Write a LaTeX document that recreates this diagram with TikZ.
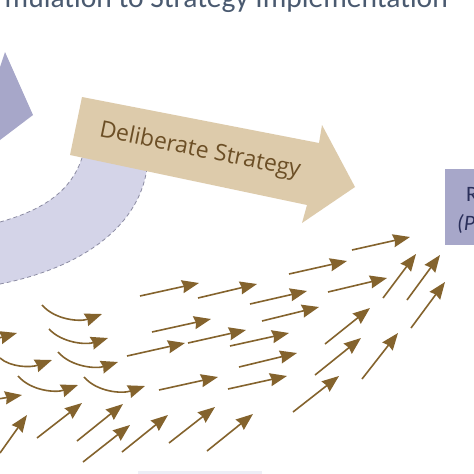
\documentclass[tikz,border=0pt]{standalone}
\usepackage{fontspec}
\setmainfont{Carlito}
\newfontfamily\delibfont{Open Sans}
\usetikzlibrary{arrows.meta}
\definecolor{titlec}{HTML}{4A5A70}
\definecolor{headc}{HTML}{A7A7C9}
\definecolor{bandc}{HTML}{D4D4E8}
\definecolor{bandline}{HTML}{8C8CA3}
\definecolor{tanc}{HTML}{DDCBAB}
\definecolor{tantext}{HTML}{6C4F26}
\definecolor{brownc}{HTML}{84632D}
\definecolor{navyc}{HTML}{2A2F5A}
\definecolor{faintc}{HTML}{EEEEF6}
\tikzset{
  brarrow/.style={draw=brownc, line width=1.6pt, -{Stealth[length=17pt,width=13pt,inset=1.5pt]}},
}
\begin{document}
\begin{tikzpicture}[x=1pt,y=-1pt]
\useasboundingbox (0,0) rectangle (474,474);
\clip (0,0) rectangle (474,474);
\fill[white] (0,0) rectangle (474,474);
% title
\node[anchor=base east, inner sep=0pt, text=titlec, font=\fontsize{29.5}{32}\selectfont] (title) at (448,7) {Formulation to Strategy Implementation};
% intended arrow head
\fill[headc] (5,52) -- (33,115) -- (0,140) -- (-10,145) -- (-10,60) -- (0,67) -- cycle;
% unrealized band
\fill[bandc] (-10,224) -- (0,222) .. controls (50,208) and (80,185) .. (86,140) -- (148,140) -- (148,150) .. controls (150,215) and (95,265) .. (0,284) -- (-10,286) -- cycle;
\draw[bandline, line width=0.8pt, dash pattern=on 4pt off 3pt] (0,222) .. controls (50,208) and (80,185) .. (86,140);
\draw[bandline, line width=0.8pt, dash pattern=on 4pt off 3pt] (148,140) -- (148,150) .. controls (150,215) and (95,265) .. (0,284);
% deliberate strategy arrow
\fill[tanc] (82,97) -- (319,143) -- (322,125) -- (355,187) -- (302,223) -- (307,205) -- (70,155) -- cycle;
\node[rotate=-11.5, text=tantext, font=\delibfont\fontsize{23}{26}\selectfont, inner sep=0pt] (delib) at (200,151) {Deliberate Strategy};
% realized box
\fill[headc] (445,169) rectangle (490,245);
\node[anchor=base west, inner sep=0pt, text=navyc, font=\fontsize{22}{24}\selectfont] (real1) at (466,201) {Realized Strategy};
\node[anchor=base west, inner sep=0pt, text=navyc, font=\fontsize{22}{24}\selectfont\itshape] (real2) at (457,230) {(Pattern)};
% emergent box top (faint)
\fill[faintc] (138,471) rectangle (262,480);
% straight arrows
\foreach \a/\b in {
  {(289,274)}/{(347,261)}, {(352,250)}/{(410,237)},
  {(383,298)}/{(416,254)}, {(407,300)}/{(440,255)},
  {(328,292)}/{(387,278)}, {(411,328)}/{(445,282)},
  {(140,296)}/{(199,283)}, {(198,298)}/{(257,284)},
  {(250,304)}/{(307,291)}, {(262,321)}/{(319,307)},
  {(152,332)}/{(211,319)}, {(188,343)}/{(246,330)},
  {(127,356)}/{(185,343)}, {(230,346)}/{(289,333)},
  {(239,367)}/{(297,353)}, {(159,390)}/{(218,377)},
  {(228,389)}/{(287,376)}, {(325,344)}/{(370,308)},
  {(315,375)}/{(361,338)}, {(362,379)}/{(398,333)},
  {(293,412)}/{(339,376)}, {(-30,346)}/{(17,333)},
  {(-20,402)}/{(22,395)}, {(0,453)}/{(27,415)},
  {(37,438)}/{(82,403)}, {(77,441)}/{(123,404)},
  {(83,462)}/{(130,425)}, {(122,452)}/{(168,415)},
  {(169,443)}/{(215,407)}, {(207,451)}/{(253,414)}}
  {\draw[brarrow] \a -- \b;}
% curved arrows
\draw[brarrow] (42,305) .. controls (55,320) and (80,322) .. (102,314);
\draw[brarrow] (49,329) .. controls (62,343) and (86,345) .. (108,338);
\draw[brarrow] (58,352) .. controls (71,367) and (96,369) .. (118,362);
\draw[brarrow] (0,358) .. controls (10,367) and (30,368) .. (52,360);
\draw[brarrow] (18,376) .. controls (31,391) and (56,393) .. (78,385);
\draw[brarrow] (84,377) .. controls (97,392) and (122,394) .. (145,386);
\end{tikzpicture}
\end{document}
